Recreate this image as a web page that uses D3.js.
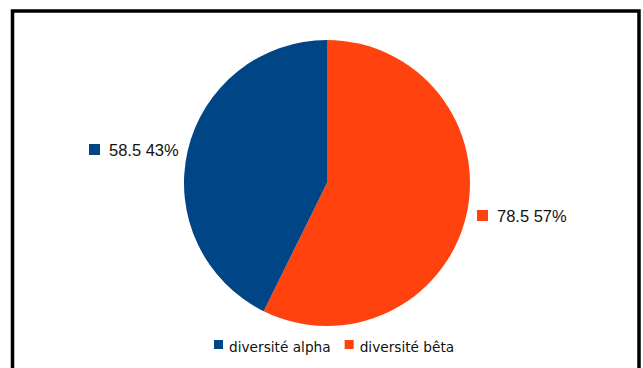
<!DOCTYPE html>
<html>
<head>
<meta charset="utf-8">
<script src="https://cdn.jsdelivr.net/npm/d3@7"></script>
<style>
  body { margin: 0; background: #fff; }
</style>
</head>
<body>
<svg id="chart" width="643" height="368"></svg>
<script>
// data //
const categories = ['diversité alpha', 'diversité bêta']
const values = [58.5, 78.5]
const colors = ['#004586', '#ff420e']

const svg = d3.select('#chart')

// frame //
svg.append('rect')
    .attr('x', 12.5)
    .attr('y', 11)
    .attr('width', 626.5)
    .attr('height', 400)
    .attr('fill', 'white')
    .attr('stroke', 'black')
    .attr('stroke-width', 3.5)

const cx = 327
const cy = 183
const radius = 143

const total = d3.sum(values)
const data = categories.map((c, i) => ({ name: c, value: values[i], color: colors[i] }))

// pie: orange clockwise from 12 o'clock, blue fills the rest //
const pie = d3.pie()
    .value(d => d.value)
    .sort(null)

const arc = d3.arc()
    .innerRadius(0)
    .outerRadius(radius)

const g = svg.append('g')
    .attr('transform', `translate(${cx}, ${cy})`)

const arcs = pie(data.slice().reverse())

g.selectAll('path')
    .data(arcs)
    .join('path')
    .attr('d', arc)
    .attr('fill', d => d.data.color)

// value labels //
const labelPos = {
    'diversité alpha': [89, 144],
    'diversité bêta': [477, 210]
}

arcs.forEach(a => {
    const [lx, ly] = labelPos[a.data.name]
    const pct = d3.format('.0%')(a.data.value / total)
    svg.append('rect')
        .attr('x', lx)
        .attr('y', ly)
        .attr('width', 11)
        .attr('height', 11)
        .attr('fill', a.data.color)
    svg.append('text')
        .attr('x', lx + 20)
        .attr('y', ly + 12)
        .attr('font-family', 'Liberation Sans, Arial, sans-serif')
        .attr('font-size', 16.5)
        .attr('fill', '#111')
        .text(`${a.data.value} ${pct}`)
})

// legend //
const legend = svg.append('g')
    .attr('transform', 'translate(214, 340)')

let offset = 0
data.forEach(d => {
    const item = legend.append('g').attr('transform', `translate(${offset}, 0)`)
    item.append('rect')
        .attr('width', 9)
        .attr('height', 9)
        .attr('fill', d.color)
    const t = item.append('text')
        .attr('x', 15)
        .attr('y', 12)
        .attr('font-family', 'DejaVu Sans, Verdana, sans-serif')
        .attr('font-size', 13.7)
        .attr('fill', '#111')
        .text(d.name)
    offset += 15 + t.node().getComputedTextLength() + 14
})
</script>
</body>
</html>
